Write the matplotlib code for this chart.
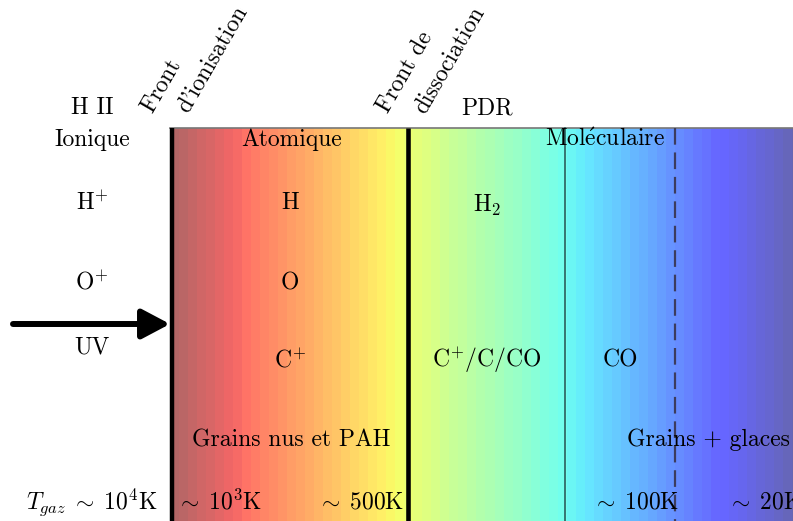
import numpy as np
import matplotlib
matplotlib.use("Agg")
import matplotlib.pyplot as plt

plt.rcParams['font.family'] = ['cmr10', 'DejaVu Serif']
plt.rcParams['mathtext.fontset'] = 'cm'
plt.rcParams['axes.unicode_minus'] = False

# ---- content ----
hii_labels = ['H II', 'Ionique', r'$\mathrm{H}^{+}$', r'$\mathrm{O}^{+}$', 'UV',
              r'$T_{gaz}\;\sim\;10^4$K']
atom_labels = ['Atomique', 'H', 'O', r'$\mathrm{C}^{+}$', 'Grains nus et PAH']
pdr_labels = ['PDR', r'H$_2$', r'$\mathrm{C}^{+}$/C/CO']
mol_labels = [r'Mol$\acute{\rm e}$culaire', 'CO', 'Grains + glaces']
temp_labels = [r'$\sim\;10^3$K', r'$\sim\;500$K', r'$\sim\;100$K', r'$\sim\;20$K']
front_labels = [['Front', "d'ionisation"], ['Front de', 'dissociation']]
n_bands = 70

# ---- layout (pixel frame) ----
W, H = 793, 521
fig = plt.figure(figsize=(W / 100, H / 100), dpi=100)
ax = fig.add_axes([0, 0, 1, 1])
ax.set_xlim(0, W)
ax.set_ylim(H, 0)
ax.axis('off')

x0, x_diss, x_co, x_ice, x1 = 170, 408, 565, 675, 793
ytop = 128
fs = 17

grad = np.linspace(0, 1, n_bands)[None, :]
ax.imshow(grad, cmap='jet_r', alpha=0.6, aspect='auto', interpolation='nearest',
          extent=[x0, x1 + 8, H, ytop], zorder=1)
ax.plot([x0, x1 + 5], [ytop, ytop], color='#777777', lw=1.2, zorder=2)
ax.plot([x0 + 1.5, x0 + 1.5], [ytop - 0.5, H], color='black', lw=3.2, zorder=3, solid_capstyle='butt')
ax.plot([x_diss, x_diss], [ytop, H], color='black', lw=3.3, zorder=3, solid_capstyle='butt')
ax.plot([x_co, x_co], [ytop, H], color='#2c5e5e', lw=1.2, zorder=3)
ax.plot([x_ice, x_ice], [ytop, H], color='#3c3c5e', lw=1.6, ls=(0, (7.5, 3.5)), zorder=3)

ax.annotate('', xy=(x0, 324), xytext=(13, 324),
            arrowprops=dict(arrowstyle='-|>,head_length=0.85,head_width=0.45', lw=4.3,
                            color='black', mutation_scale=20, shrinkA=0, shrinkB=0),
            zorder=4)

def txt(x, y, s, **kw):
    ax.text(x, y, s, fontsize=fs, ha=kw.pop('ha', 'center'), va='center', zorder=5, **kw)

hii_pos = [(92, 108), (92, 140), (92, 203), (92, 282), (92, 347), (92, 502)]
for (x, y), s in zip(hii_pos, hii_labels):
    txt(x, y, s)
atom_pos = [(292, 140), (290, 203), (290, 283), (290, 360), (291, 440)]
for (x, y), s in zip(atom_pos, atom_labels):
    txt(x, y, s)
pdr_pos = [(487, 108), (487, 205), (487, 360)]
for (x, y), s in zip(pdr_pos, pdr_labels):
    txt(x, y, s)
mol_pos = [(605, 140), (620, 360), (708, 440)]
for (x, y), s in zip(mol_pos, mol_labels):
    txt(x, y, s)
temp_pos = [(219, 502), (361, 502), (636, 502)]
for (x, y), s in zip(temp_pos, temp_labels[:3]):
    txt(x, y, s)
txt(727, 502, temp_labels[3], ha='left')

front_pos = [[(152, 114), (188, 114)], [(388, 114), (425, 115)]]
for lines, poss in zip(front_labels, front_pos):
    for s, (x, y) in zip(lines, poss):
        ax.text(x, y, s, fontsize=fs, rotation=60, rotation_mode='anchor',
                ha='left', va='baseline', zorder=5)

fig.savefig('out.png', dpi=100)
